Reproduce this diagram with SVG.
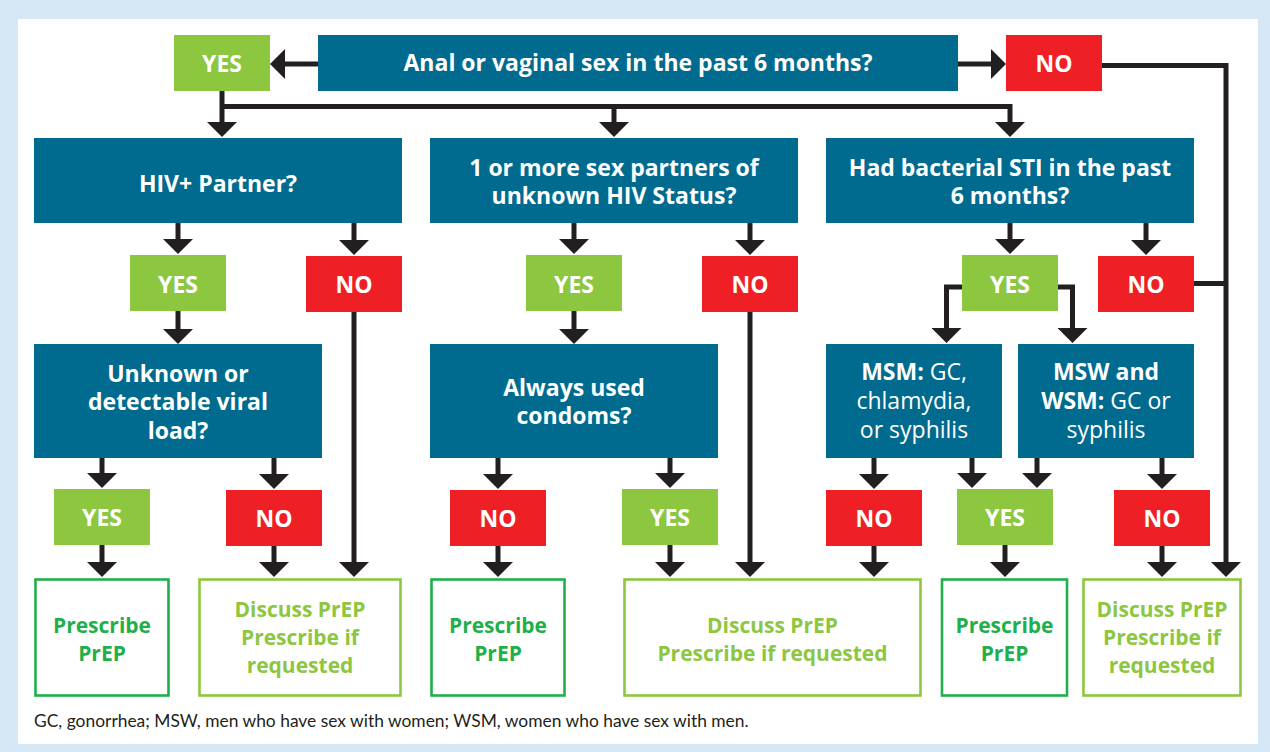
<svg xmlns="http://www.w3.org/2000/svg" width="1270" height="752" viewBox="0 0 1270 752">
<defs>
<marker id="ah" viewBox="0 0 15 30" markerWidth="15" markerHeight="30" refX="0" refY="15" orient="auto" markerUnits="userSpaceOnUse">
<path d="M0,0 L15,15 L0,30 Z" fill="#231f20"/>
</marker>
<style>
.q{fill:#006b8f}
.yes{fill:#8dc63f}
.no{fill:#ee1f25}
.rx{fill:#fff;stroke:#1fb04c;stroke-width:2.6}
.dx{fill:#fff;stroke:#8dc63f;stroke-width:2.6}
text{font-family:"Open Sans",Lato,"Liberation Sans",sans-serif}
.t{font-weight:700;font-size:23px;fill:#fff;text-anchor:middle}
.l{font-weight:700;font-size:23px;fill:#fff;text-anchor:middle}
.r{font-weight:400}
.g{font-weight:700;font-size:21px;fill:#1fb04c;text-anchor:middle}
.lg{font-weight:700;font-size:21px;fill:#8dc63f;text-anchor:middle}
.fn{font-family:Lato,"Open Sans",sans-serif;font-size:17.4px;fill:#231f20}
#connectors path{fill:none;stroke:#231f20;stroke-width:5;stroke-linejoin:miter}
#connectors .a{marker-end:url(#ah)}
</style>
</defs>
<rect x="0" y="0" width="1270" height="752" fill="#d6e7f5"/>
<rect x="18" y="19" width="1240" height="725" fill="#fff"/>

<g id="connectors">
<path class="a" d="M318,64 H285"/>
<path class="a" d="M958,64 H991"/>
<path class="a" d="M222,91 V122"/>
<path class="a" d="M222,106.5 H1010 V122"/>
<path class="a" d="M614,106.5 V122"/>
<path class="a" d="M1102,65.5 H1226 V562"/>
<path d="M1194,283.5 H1226"/>
<path class="a" d="M178,223 V239"/>
<path class="a" d="M354,223 V240"/>
<path class="a" d="M178,311 V329"/>
<path class="a" d="M354,311 V562"/>
<path class="a" d="M102,457 V473"/>
<path class="a" d="M274,457 V474"/>
<path class="a" d="M102,545 V562"/>
<path class="a" d="M274,546 V562"/>
<path class="a" d="M574,223 V239"/>
<path class="a" d="M750,223 V240"/>
<path class="a" d="M574,311 V329"/>
<path class="a" d="M750,312 V562"/>
<path class="a" d="M498,457 V474"/>
<path class="a" d="M670,457 V473"/>
<path class="a" d="M498,546 V562"/>
<path class="a" d="M670,545 V562"/>
<path class="a" d="M1010,223 V239"/>
<path class="a" d="M1146,223 V240"/>
<path class="a" d="M962,287 H946.5 V328"/>
<path class="a" d="M1058,287 H1072.5 V328"/>
<path class="a" d="M874,457 V474"/>
<path class="a" d="M972,457 V473"/>
<path class="a" d="M1037,457 V473"/>
<path class="a" d="M1162,457 V474"/>
<path class="a" d="M874,546 V562"/>
<path class="a" d="M1005,545 V562"/>
<path class="a" d="M1162,546 V562"/>
</g>

<g id="q-top"><rect class="q" x="318" y="35" width="640" height="56"/><text class="t" x="638" y="71">Anal or vaginal sex in the past 6 months?</text></g>
<g id="yes-top"><rect class="yes" x="174" y="35" width="96" height="56"/><text class="l" x="222" y="71.5">YES</text></g>
<g id="no-top"><rect class="no" x="1006" y="35" width="96" height="56"/><text class="l" x="1054" y="71.5">NO</text></g>

<g id="q-hiv"><rect class="q" x="34" y="138" width="368" height="85"/><text class="t" x="218" y="191.5">HIV+ Partner?</text></g>
<g id="q-unknown-partners"><rect class="q" x="430" y="138" width="368" height="85"/><text class="t" x="614" y="176">1 or more sex partners of</text><text class="t" x="614" y="204">unknown HIV Status?</text></g>
<g id="q-sti"><rect class="q" x="826" y="138" width="368" height="85"/><text class="t" x="1010" y="176">Had bacterial STI in the past</text><text class="t" x="1010" y="204">6 months?</text></g>

<g id="yes-hiv"><rect class="yes" x="130" y="255" width="96" height="56"/><text class="l" x="178" y="292.5">YES</text></g>
<g id="no-hiv"><rect class="no" x="306" y="256" width="96" height="56"/><text class="l" x="354" y="293">NO</text></g>
<g id="yes-partners"><rect class="yes" x="526" y="255" width="96" height="56"/><text class="l" x="574" y="292.5">YES</text></g>
<g id="no-partners"><rect class="no" x="702" y="256" width="96" height="56"/><text class="l" x="750" y="293">NO</text></g>
<g id="yes-sti"><rect class="yes" x="962" y="255" width="96" height="56"/><text class="l" x="1010" y="292.5">YES</text></g>
<g id="no-sti"><rect class="no" x="1098" y="256" width="96" height="56"/><text class="l" x="1146" y="293">NO</text></g>

<g id="q-viral"><rect class="q" x="34" y="344" width="288" height="114"/><text class="t" x="178" y="381.5">Unknown or</text><text class="t" x="178" y="410">detectable viral</text><text class="t" x="178" y="438.5">load?</text></g>
<g id="q-condoms"><rect class="q" x="430" y="344" width="288" height="114"/><text class="t" x="574" y="396">Always used</text><text class="t" x="574" y="424">condoms?</text></g>
<g id="q-msm"><rect class="q" x="826" y="344" width="176" height="114"/><text class="t" x="914" y="380">MSM:<tspan class="r"> GC,</tspan></text><text class="t r" x="914" y="409">chlamydia,</text><text class="t r" x="914" y="437.5">or syphilis</text></g>
<g id="q-msw"><rect class="q" x="1018" y="344" width="176" height="114"/><text class="t" x="1106" y="380">MSW and</text><text class="t" x="1106" y="409">WSM:<tspan class="r"> GC or</tspan></text><text class="t r" x="1106" y="437.5">syphilis</text></g>

<g id="yes-viral"><rect class="yes" x="54" y="489" width="96" height="56"/><text class="l" x="102" y="526">YES</text></g>
<g id="no-viral"><rect class="no" x="226" y="490" width="96" height="56"/><text class="l" x="274" y="527">NO</text></g>
<g id="no-condoms"><rect class="no" x="450" y="490" width="96" height="56"/><text class="l" x="498" y="527">NO</text></g>
<g id="yes-condoms"><rect class="yes" x="622" y="489" width="96" height="56"/><text class="l" x="670" y="526">YES</text></g>
<g id="no-msm"><rect class="no" x="826" y="490" width="96" height="56"/><text class="l" x="874" y="527">NO</text></g>
<g id="yes-msm-msw"><rect class="yes" x="957" y="489" width="96" height="56"/><text class="l" x="1005" y="526">YES</text></g>
<g id="no-msw"><rect class="no" x="1114" y="490" width="96" height="56"/><text class="l" x="1162" y="527">NO</text></g>

<g id="rx-1"><rect class="rx" x="35.5" y="579.5" width="133" height="116"/><text class="g" x="102" y="633">Prescribe</text><text class="g" x="102" y="661">PrEP</text></g>
<g id="dx-1"><rect class="dx" x="199.5" y="579.5" width="201" height="116"/><text class="lg" x="300" y="617">Discuss PrEP</text><text class="lg" x="300" y="645">Prescribe if</text><text class="lg" x="300" y="673">requested</text></g>
<g id="rx-2"><rect class="rx" x="431.5" y="579.5" width="133" height="116"/><text class="g" x="498" y="633">Prescribe</text><text class="g" x="498" y="661">PrEP</text></g>
<g id="dx-2"><rect class="dx" x="624.5" y="579.5" width="296" height="116"/><text class="lg" x="772.5" y="633">Discuss PrEP</text><text class="lg" x="772.5" y="661">Prescribe if requested</text></g>
<g id="rx-3"><rect class="rx" x="942" y="579.5" width="125" height="116"/><text class="g" x="1004.5" y="633">Prescribe</text><text class="g" x="1004.5" y="661">PrEP</text></g>
<g id="dx-3"><rect class="dx" x="1083.5" y="579.5" width="157" height="116"/><text class="lg" x="1162" y="617">Discuss PrEP</text><text class="lg" x="1162" y="645">Prescribe if</text><text class="lg" x="1162" y="673">requested</text></g>

<text class="fn" x="34" y="727">GC, gonorrhea; MSW, men who have sex with women; WSM, women who have sex with men.</text>
</svg>
